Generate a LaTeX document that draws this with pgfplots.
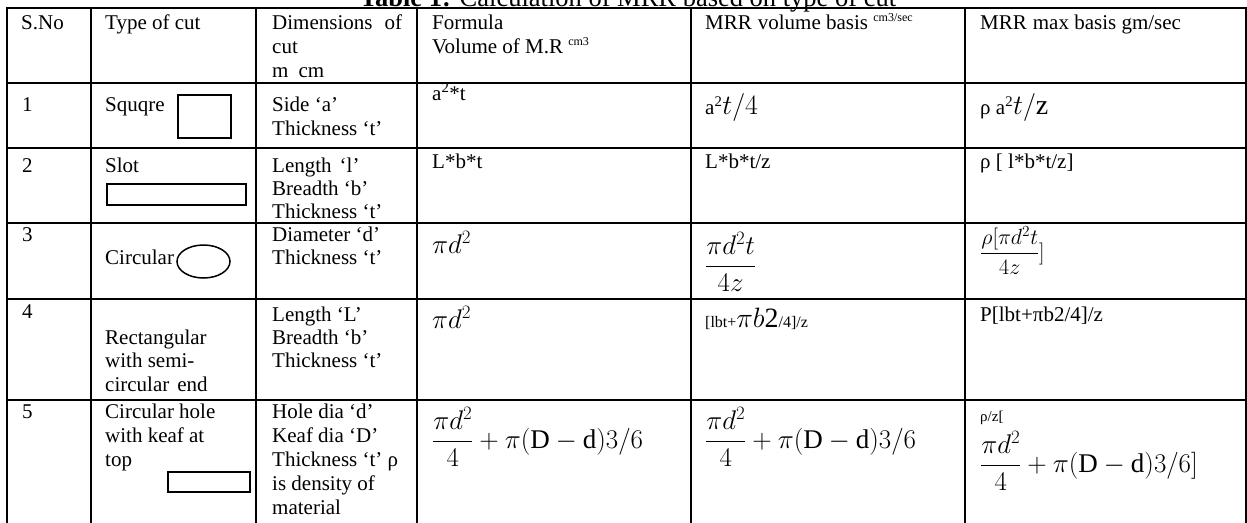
\documentclass[border=0pt]{standalone}
\usepackage{fix-cm}
\usepackage{amsmath}
\usepackage{fontspec}
\setmainfont{Liberation Serif}
\usepackage{pgfplots}
\pgfplotsset{compat=1.18}

\newcommand{\fs}[2]{\fontsize{#1}{#2}\selectfont}
\tikzset{cell/.style={anchor=base west, inner sep=0pt, font=\fs{21}{24}}}
\newcommand{\cell}[3]{\node[cell] at (axis cs:#1,#2) {#3};}
\newcommand{\sps}[1]{\raisebox{8pt}{\fs{12}{12}#1}}

\begin{document}
\begin{tikzpicture}
\begin{axis}[
    width=1247pt, height=522pt, scale only axis,
    xmin=0, xmax=1247, ymin=0, ymax=522, y dir=reverse,
    hide axis, clip=true,
]
% title, cut at the top of the page
\node[anchor=base, inner sep=0pt, font=\fs{26.5}{30}] at (axis cs:628,6)
    {\textbf{Table 1:} Calculation of MRR based on type of cut};

% rules of the table
\addplot[black, line width=1.8pt, line cap=rect] coordinates {(7,8) (1246,8)};
\addplot[black, line width=1.8pt, line cap=rect] coordinates {(7,83) (1246,83)};
\addplot[black, line width=1.8pt, line cap=rect] coordinates {(7,148) (1246,148)};
\addplot[black, line width=1.8pt, line cap=rect] coordinates {(7,223) (1246,223)};
\addplot[black, line width=1.8pt, line cap=rect] coordinates {(7,299) (1246,299)};
\addplot[black, line width=1.8pt, line cap=rect] coordinates {(7,400) (1246,400)};
\addplot[black, line width=1.8pt, line cap=rect] coordinates {(7,8) (7,530)};
\addplot[black, line width=1.8pt, line cap=rect] coordinates {(91,8) (91,530)};
\addplot[black, line width=1.8pt, line cap=rect] coordinates {(256,8) (256,530)};
\addplot[black, line width=1.8pt, line cap=rect] coordinates {(417,8) (417,530)};
\addplot[black, line width=1.8pt, line cap=rect] coordinates {(691,8) (691,530)};
\addplot[black, line width=1.8pt, line cap=rect] coordinates {(965,8) (965,530)};
\addplot[black, line width=1.8pt, line cap=rect] coordinates {(1246,8) (1246,530)};

% header
\cell{21}{29}{S.No}
\cell{105}{29}{Type of cut}
\cell{272}{29}{Dimensions\hspace{12pt}of}
\cell{272}{53}{cut}
\cell{272}{77}{m\hspace{10pt}cm}
\cell{432}{29}{Formula}
\cell{432}{53}{Volume of M.R \sps{cm3}}
\cell{705}{29}{MRR\hspace{6pt}volume basis \sps{cm3/sec}}
\cell{980}{29}{MRR\hspace{6pt}max basis gm/sec}

% row 1
\cell{22}{111}{1}
\cell{105}{111}{Squqre}
\draw[line width=1.5pt] (axis cs:178,95) rectangle (axis cs:231,138);
\cell{272}{111}{Side ‘a’}
\cell{272}{135}{Thickness ‘t’}
\cell{432}{100}{a\textsuperscript{2}*t}
\cell{705}{114}{a\textsuperscript{2}{\fs{28}{30}$t/4$}}
\cell{980}{114}{ρ a\textsuperscript{2}{\fs{28}{30}$t/\mathrm{z}$}}

% row 2
\cell{22}{172}{2}
\cell{105}{172}{Slot}
\draw[line width=1.5pt] (axis cs:107,184) rectangle (axis cs:246,205);
\cell{272}{172}{Length\hspace{8pt}‘l’}
\cell{272}{195}{Breadth ‘b’}
\cell{272}{218}{Thickness ‘t’}
\cell{432}{168}{L*b*t}
\cell{705}{168}{L*b*t/z}
\cell{980}{168}{ρ [ l*b*t/z]}

% row 3
\cell{22}{241}{3}
\cell{105}{264}{Circular}
\draw[line width=1.5pt] (axis cs:203.5,261.5) ellipse [x radius=26.5pt, y radius=16.5pt];
\cell{272}{241}{Diameter ‘d’}
\cell{272}{264}{Thickness ‘t’}
\cell{432}{253}{\fs{27}{30}$\pi d^2$}
\cell{705}{273}{\fs{27}{30}$\dfrac{\pi d^2 t}{4z}$}
\cell{980}{259}{\fs{22}{26}$\dfrac{\rho[\pi d^2 t}{4z}]$}

% row 4
\cell{22}{318}{4}
\cell{105}{344}{Rectangular}
\cell{105}{367}{with semi-}
\cell{105}{391}{circular\hspace{8pt}end}
\cell{272}{321}{Length ‘L’}
\cell{272}{344}{Breadth ‘b’}
\cell{272}{367}{Thickness ‘t’}
\cell{432}{328}{\fs{27}{30}$\pi d^2$}
\cell{705}{327}{{\fs{16}{18}[lbt+}{\fs{28}{30}$\pi b\mathrm{2}$}{\fs{16}{18}/4]/z}}
\cell{980}{321}{P[lbt+πb2/4]/z}

% row 5
\cell{22}{418}{5}
\cell{105}{418}{Circular hole}
\cell{105}{442}{with keaf at}
\cell{105}{466}{top}
\draw[line width=1.5pt] (axis cs:168,472) rectangle (axis cs:250,492);
\cell{272}{418}{Hole dia ‘d’}
\cell{272}{442}{Keaf dia ‘D’}
\cell{272}{466}{Thickness ‘t’ ρ}
\cell{272}{490}{is density of}
\cell{272}{514}{material}
\cell{432}{448}{\fs{27}{30}$\dfrac{\pi d^2}{4}+\pi(\mathrm{D}-\mathrm{d})3/6$}
\cell{705}{448}{\fs{27}{30}$\dfrac{\pi d^2}{4}+\pi(\mathrm{D}-\mathrm{d})3/6$}
\cell{980}{421}{\fs{15}{17}ρ/z[}
\cell{980}{472}{\fs{27}{30}$\dfrac{\pi d^2}{4}+\pi(\mathrm{D}-\mathrm{d})3/6]$}
\end{axis}
\pgfresetboundingbox
\path (current axis.south west) rectangle (current axis.north east);
\end{tikzpicture}
\end{document}
